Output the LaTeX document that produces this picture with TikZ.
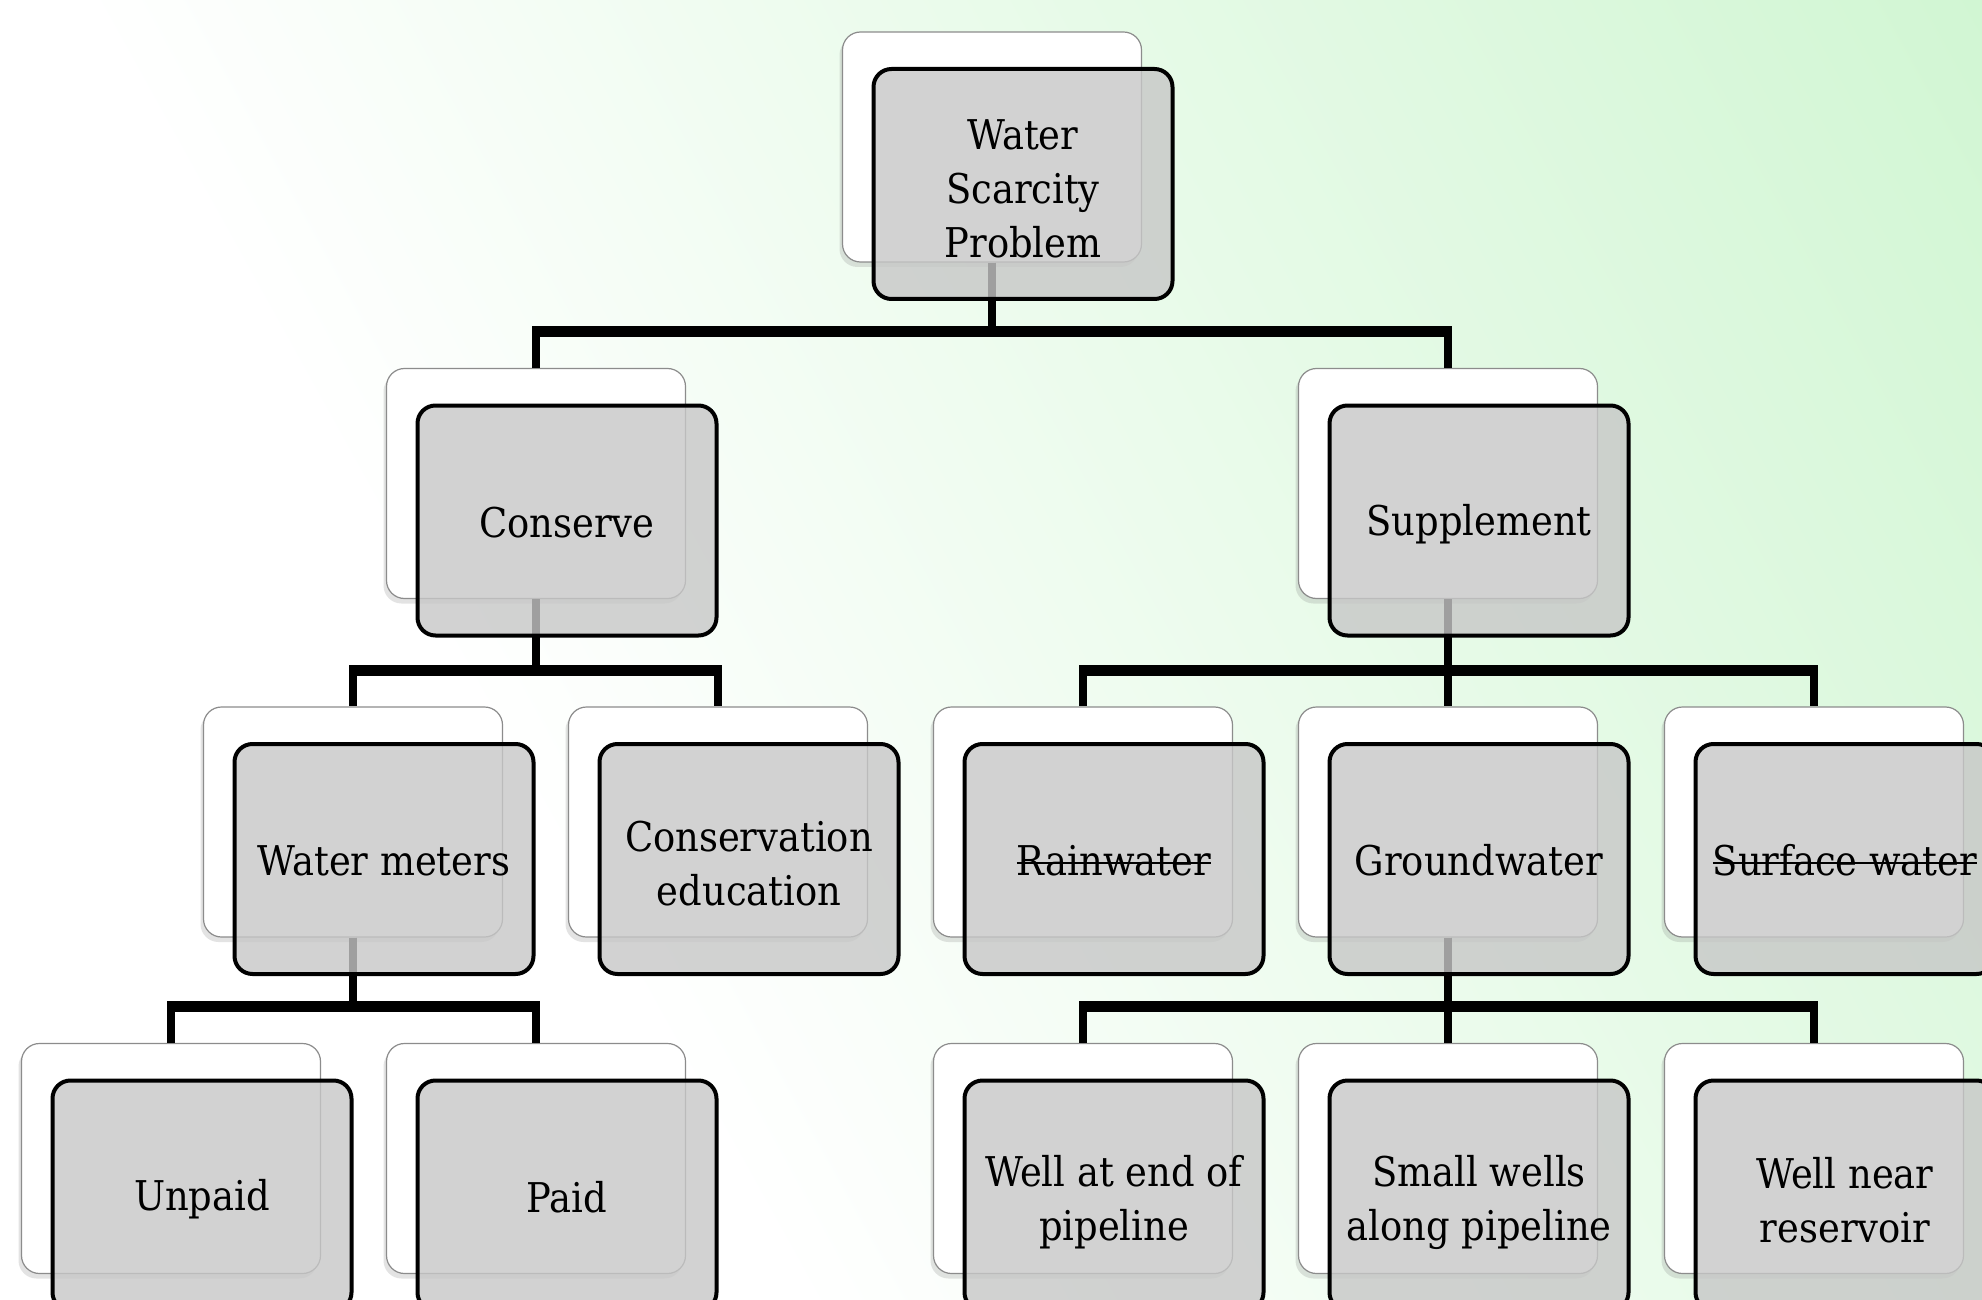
\documentclass[tikz,border=0pt]{standalone}
\usepackage{fontspec}
\setmainfont{DejaVu Serif Condensed}
\usetikzlibrary{shadows,calc}
\definecolor{bgG}{RGB}{209,246,211}
\definecolor{boxG}{RGB}{199,199,199}
\newcommand{\strk}[1]{\setbox0\hbox{#1}\rlap{\rule[0.28em]{\wd0}{0.06em}}\box0}
\newcommand{\botstrut}{\rule[-3pt]{0pt}{3pt}}
\newcommand{\mtop}{\rule{0pt}{22.5pt}}
\begin{document}
\begin{tikzpicture}[x=0.5pt,y=-0.5pt,
  back/.style={draw=black!45, line width=0.6pt, fill=white, rounded corners=9pt,
    minimum width=149.5pt, minimum height=115pt, inner sep=0pt,
    drop shadow={shadow xshift=-1.5pt, shadow yshift=-2.5pt, opacity=0.22}},
  front/.style={draw=black, line width=2pt, fill=boxG, fill opacity=0.8,
    draw opacity=1, text opacity=1, rounded corners=9pt,
    minimum width=149.5pt, minimum height=115pt, inner sep=0pt, align=center,
    font=\fontsize{20.5}{27}\selectfont,
    execute at begin node={\rule{0pt}{19.5pt}}, execute at end node={\botstrut}},
  conn/.style={line width=4pt, line join=round},
  bus/.style={line width=5.5pt, line cap=butt}]
\useasboundingbox (0,0) rectangle (1982,1300);
% background
\fill[white] (0,0) rectangle (1982,1300);
\begin{scope}[overlay]
  \clip (0,0) rectangle (1982,1300);
  \begin{scope}[transform canvas={rotate around={29:(0pt,-650pt)}}]
    \shade[left color=white, right color=bgG] (350pt,-1170pt) rectangle (1182pt,-50pt);
  \end{scope}
\end{scope}
% back boxes
\node[back] (top) at (992,147) {};
\node[back] (cons) at (536,483.5) {};
\node[back] (supp) at (1448,483.5) {};
\node[back] (wm) at (353,822) {};
\node[back] (ce) at (718,822) {};
\node[back] (rw) at (1083,822) {};
\node[back] (gw) at (1448,822) {};
\node[back] (sw) at (1814,822) {};
\node[back] (up) at (171,1158.5) {};
\node[back] (pd) at (536,1158.5) {};
\node[back] (we) at (1083,1158.5) {};
\node[back] (sm) at (1448,1158.5) {};
\node[back] (wn) at (1814,1158.5) {};
% connectors
\foreach \p/\c in {top/cons, top/supp, cons/wm, cons/ce, supp/rw, supp/gw, supp/sw, wm/up, wm/pd, gw/we, gw/sm, gw/wn}{
  \draw[conn] (\p.south) |- ($(\c.north)+(0,-36)$) -- (\c.north);
}
\draw[bus] ($(cons.north)+(-4,-36)$) -- ($(supp.north)+(4,-36)$);
\draw[bus] ($(wm.north)+(-4,-36)$) -- ($(ce.north)+(4,-36)$);
\draw[bus] ($(rw.north)+(-4,-36)$) -- ($(sw.north)+(4,-36)$);
\draw[bus] ($(up.north)+(-4,-36)$) -- ($(pd.north)+(4,-36)$);
\draw[bus] ($(we.north)+(-4,-36)$) -- ($(wn.north)+(4,-36)$);
% front boxes
\node[front] (topF) at ($(top)+(31,37)$) {\mtop Water\\Scarcity\\Problem};
\node[front] (consF) at ($(cons)+(31,37)$) {Conserve};
\node[front] (suppF) at ($(supp)+(31,37)$) {Supplement};
\node[front] (wmF) at ($(wm)+(31,37)$) {Water meters};
\node[front] (ceF) at ($(ce)+(31,37)$) {\mtop Conservation\\education};
\node[front] (rwF) at ($(rw)+(31,37)$) {\strk{Rainwater}};
\node[front] (gwF) at ($(gw)+(31,37)$) {Groundwater};
\node[front] (swF) at ($(sw)+(31,37)$) {\strk{Surface water}};
\node[front] (upF) at ($(up)+(31,37)$) {Unpaid};
\node[front] (pdF) at ($(pd)+(31,37)$) {Paid};
\node[front] (weF) at ($(we)+(31,37)$) {\mtop Well at end of\\pipeline};
\node[front] (smF) at ($(sm)+(31,37)$) {\mtop Small wells\\along pipeline};
\node[front] (wnF) at ($(wn)+(31,37)$) {\mtop Well near\\reservoir};
\end{tikzpicture}
\end{document}
